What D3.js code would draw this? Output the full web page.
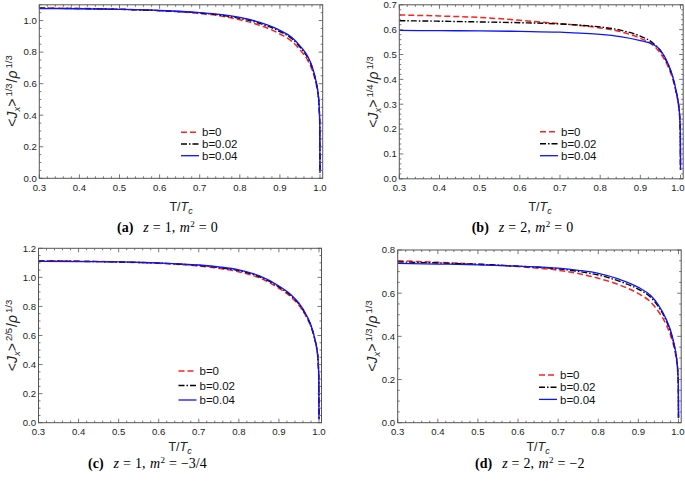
<!DOCTYPE html>
<html><head><meta charset="utf-8">
<script src="https://cdn.jsdelivr.net/npm/d3@7"></script>
<style>
html,body{margin:0;padding:0;background:#fff;}
svg{display:block;}
</style></head>
<body>
<svg id="chart" width="685" height="481"></svg>
<script>
// ---------------- DATA ----------------
const tSamples = [0.3,0.4,0.5,0.6,0.7,0.75,0.8,0.85,0.9,0.93,0.95,0.97,0.98,0.99,0.995,0.998,0.9995,1.0];
const seriesLabels = ["b=0","b=0.02","b=0.04"];

const aB0   = [1.080,1.077,1.072,1.063,1.045,1.030,1.005,0.970,0.915,0.868,0.815,0.745,0.690,0.600,0.530,0.440,0.320,0.035];
const aB002 = [1.078,1.076,1.071,1.063,1.048,1.035,1.014,0.982,0.930,0.885,0.832,0.762,0.705,0.612,0.540,0.448,0.325,0.035];
const aB004 = [1.076,1.075,1.071,1.064,1.050,1.039,1.020,0.988,0.938,0.893,0.840,0.770,0.712,0.618,0.545,0.452,0.330,0.035];

const bB0   = [0.659,0.655,0.649,0.638,0.624,0.617,0.607,0.592,0.565,0.540,0.505,0.448,0.405,0.340,0.295,0.245,0.180,0.035];
const bB002 = [0.636,0.634,0.631,0.628,0.623,0.618,0.611,0.598,0.574,0.548,0.515,0.456,0.412,0.345,0.300,0.250,0.185,0.035];
const bB004 = [0.597,0.596,0.595,0.593,0.590,0.586,0.581,0.572,0.556,0.542,0.518,0.460,0.415,0.348,0.302,0.252,0.187,0.035];

const cB0   = [1.115,1.112,1.106,1.097,1.078,1.062,1.038,0.998,0.925,0.865,0.808,0.720,0.660,0.565,0.495,0.410,0.300,0.023];
const cB002 = [1.112,1.110,1.106,1.098,1.082,1.068,1.046,1.006,0.934,0.874,0.816,0.727,0.666,0.570,0.500,0.414,0.303,0.023];
const cB004 = [1.110,1.109,1.106,1.099,1.085,1.072,1.052,1.012,0.941,0.881,0.822,0.733,0.671,0.574,0.504,0.417,0.305,0.023];

const dB0   = [0.750,0.743,0.734,0.723,0.706,0.691,0.669,0.640,0.598,0.560,0.515,0.452,0.406,0.340,0.290,0.235,0.170,0.023];
const dB002 = [0.745,0.740,0.734,0.725,0.713,0.701,0.684,0.657,0.618,0.582,0.537,0.470,0.422,0.352,0.300,0.243,0.175,0.023];
const dB004 = [0.738,0.735,0.731,0.725,0.716,0.706,0.692,0.666,0.627,0.590,0.545,0.477,0.428,0.356,0.303,0.246,0.178,0.023];

const xTicks = [0.3,0.4,0.5,0.6,0.7,0.8,0.9,1.0];
const yTicksA = [0,0.2,0.4,0.6,0.8,1.0];
const yTicksB = [0,0.1,0.2,0.3,0.4,0.5,0.6,0.7];
const yTicksC = [0,0.2,0.4,0.6,0.8,1.0,1.2];
const yTicksD = [0,0.2,0.4,0.6,0.8];
const yExponents = ["1/3","1/4","2/5","1/3"];
const captionLetters = ["(a)","(b)","(c)","(d)"];
const captionZ = ["1","2","1","2"];
const captionM2 = ["0","0","\u22123/4","\u22122"];

// ---------------- LAYOUT ----------------
const panels = [
  {series:[aB0,aB002,aB004], yTicks:yTicksA, yMax:1.1, yMinorStep:0.05,
   x0:39.3, x1:320, xr:322.7, yBot:178.3, yTop:4.8,
   leg:{x:181, y:132.3, dy:11.7}, ytitle:{x:17, y:91}, xtitle:{x:181, y:210.5}, cap:{x:117, y:232}},
  {series:[bB0,bB002,bB004], yTicks:yTicksB, yMax:0.7, yMinorStep:0.02,
   x0:399.3, x1:680.5, xr:683.2, yBot:178.8, yTop:4.8,
   leg:{x:540, y:131.7, dy:12}, ytitle:{x:378, y:92}, xtitle:{x:540, y:210.5}, cap:{x:471.7, y:232}},
  {series:[cB0,cB002,cB004], yTicks:yTicksC, yMax:1.2, yMinorStep:0.05,
   x0:38.5, x1:319, xr:321.5, yBot:422.7, yTop:248.3,
   leg:{x:178.5, y:371, dy:14.5}, ytitle:{x:17, y:335.5}, xtitle:{x:180, y:450.5}, cap:{x:88, y:467.5}},
  {series:[dB0,dB002,dB004], yTicks:yTicksD, yMax:0.8, yMinorStep:0.05,
   x0:397.7, x1:678.5, xr:681.2, yBot:422.7, yTop:250,
   leg:{x:539, y:375, dy:12.2}, ytitle:{x:377, y:336}, xtitle:{x:538, y:450.5}, cap:{x:475, y:467.5}}
];

const styles = [
  {color:"#ff2020", dash:"6,3", width:1.5},
  {color:"#000000", dash:"6,2,1.5,2", width:1.4},
  {color:"#0a14ff", dash:null, width:1.3}
];

const svg = d3.select("#chart");
const frameColor = "#555";
const labelFont = "'Liberation Sans', Arial, sans-serif";
const serifFont = "'Liberation Serif', 'Times New Roman', serif";

panels.forEach((p, pi) => {
  const x = d3.scaleLinear().domain([0.3, 1.0]).range([p.x0, p.x1]);
  const y = d3.scaleLinear().domain([0, p.yMax]).range([p.yBot, p.yTop]);
  const g = svg.append("g");

  const clipId = "clip" + pi;
  svg.append("clipPath").attr("id", clipId).append("rect")
    .attr("x", p.x0).attr("y", p.yTop).attr("width", p.xr - p.x0).attr("height", p.yBot - p.yTop);

  // curves
  const line = d3.line().x((d,i) => x(tSamples[i])).y(d => y(d)).curve(d3.curveMonotoneX);
  const cg = g.append("g").attr("clip-path", `url(#${clipId})`);
  p.series.forEach((vals, si) => {
    const st = styles[si];
    cg.append("path").datum(vals).attr("d", line)
      .attr("fill", "none").attr("stroke", st.color).attr("stroke-width", st.width)
      .attr("stroke-dasharray", st.dash).attr("stroke-linejoin", "round");
  });

  // frame
  g.append("rect").attr("x", p.x0).attr("y", p.yTop).attr("width", p.xr - p.x0).attr("height", p.yBot - p.yTop)
    .attr("fill", "none").attr("stroke", frameColor).attr("stroke-width", 1);

  // ticks (major + minor), inward on all sides
  const xMinor = d3.range(0.3, 1.0001, 0.02);
  const tg = g.append("g").attr("stroke", frameColor).attr("stroke-width", 0.8);
  xMinor.forEach(v => {
    const isMajor = Math.abs(Math.round(v*10) - v*10) < 1e-6;
    const len = isMajor ? 4 : 2;
    const xx = x(v);
    tg.append("line").attr("x1", xx).attr("x2", xx).attr("y1", p.yBot).attr("y2", p.yBot - len);
    tg.append("line").attr("x1", xx).attr("x2", xx).attr("y1", p.yTop).attr("y2", p.yTop + len);
  });
  const nMinorY = Math.round(p.yMax / p.yMinorStep);
  for (let k = 0; k <= nMinorY; k++) {
    const v = k * p.yMinorStep;
    const isMajor = p.yTicks.some(t => Math.abs(t - v) < 1e-6);
    const len = isMajor ? 4 : 2;
    const yy = y(v);
    tg.append("line").attr("x1", p.x0).attr("x2", p.x0 + len).attr("y1", yy).attr("y2", yy);
    tg.append("line").attr("x1", p.xr).attr("x2", p.xr - len).attr("y1", yy).attr("y2", yy);
  }

  // tick labels
  const fmt = d3.format(".1f");
  xTicks.forEach(v => {
    const xx = x(v);
    const overflow = xx + 8 > 685;
    g.append("text").attr("x", overflow ? 684.5 : xx).attr("y", p.yBot + 12.5)
      .attr("text-anchor", overflow ? "end" : "middle")
      .attr("font-family", labelFont).attr("font-size", 9.6).attr("fill", "#222").text(fmt(v));
  });
  p.yTicks.forEach(v => {
    g.append("text").attr("x", p.x0 - 2.5).attr("y", y(v)).attr("dy", "0.35em").attr("text-anchor", "end")
      .attr("font-family", labelFont).attr("font-size", 9.6).attr("fill", "#222").text(fmt(v));
  });

  // x title T/T_c
  const xt = g.append("text").attr("x", p.xtitle.x).attr("y", p.xtitle.y).attr("text-anchor", "middle")
    .attr("font-family", labelFont).attr("font-size", 12.5).attr("fill", "#222");
  xt.append("tspan").text("T/");
  xt.append("tspan").attr("font-style", "italic").text("T");
  xt.append("tspan").attr("font-style", "italic").attr("font-size", 9).attr("dy", 3).text("c");

  // y title
  const yt = g.append("text").attr("transform", `translate(${p.ytitle.x},${p.ytitle.y}) rotate(-90)`)
    .attr("text-anchor", "middle").attr("font-family", labelFont).attr("font-size", 14).attr("fill", "#222");
  yt.append("tspan").text("<");
  yt.append("tspan").attr("font-style", "italic").text("J");
  yt.append("tspan").attr("font-style", "italic").attr("font-size", 9.5).attr("dy", 3).text("x");
  yt.append("tspan").attr("dy", -3).text(">");
  yt.append("tspan").attr("font-size", 9.5).attr("dy", -5.5).attr("dx", 2).text(yExponents[pi]);
  yt.append("tspan").attr("dy", 5.5).attr("dx", 1).text("/");
  yt.append("tspan").attr("font-style", "italic").text("\u03C1");
  yt.append("tspan").attr("font-size", 9.5).attr("dy", -5.5).attr("dx", 2).text("1/3");

  // legend
  styles.forEach((st, si) => {
    const ly = p.leg.y + si * p.leg.dy;
    g.append("line").attr("x1", p.leg.x).attr("x2", p.leg.x + 18).attr("y1", ly).attr("y2", ly)
      .attr("stroke", st.color).attr("stroke-width", st.width).attr("stroke-dasharray", st.dash);
    g.append("text").attr("x", p.leg.x + 21).attr("y", ly).attr("dy", "0.36em")
      .attr("font-family", labelFont).attr("font-size", 11.5).attr("fill", "#111").text(seriesLabels[si]);
  });

  // caption
  const ct = g.append("text").attr("x", p.cap.x).attr("y", p.cap.y).attr("text-anchor", "start")
    .attr("font-family", serifFont).attr("font-size", 14).attr("fill", "#000");
  ct.append("tspan").attr("font-weight", "bold").text(captionLetters[pi]);
  ct.append("tspan").attr("dx", 10).attr("font-style", "italic").text("z");
  ct.append("tspan").attr("dx", 4).text("=");
  ct.append("tspan").attr("dx", 4).text(captionZ[pi] + ",");
  ct.append("tspan").attr("dx", 4.5).attr("font-style", "italic").text("m");
  ct.append("tspan").attr("font-size", 9).attr("dy", -5).attr("dx", 0.5).text("2");
  ct.append("tspan").attr("dy", 5).attr("dx", 4).text("=");
  ct.append("tspan").attr("dx", 4).text(captionM2[pi]);
});
</script>
</body></html>
